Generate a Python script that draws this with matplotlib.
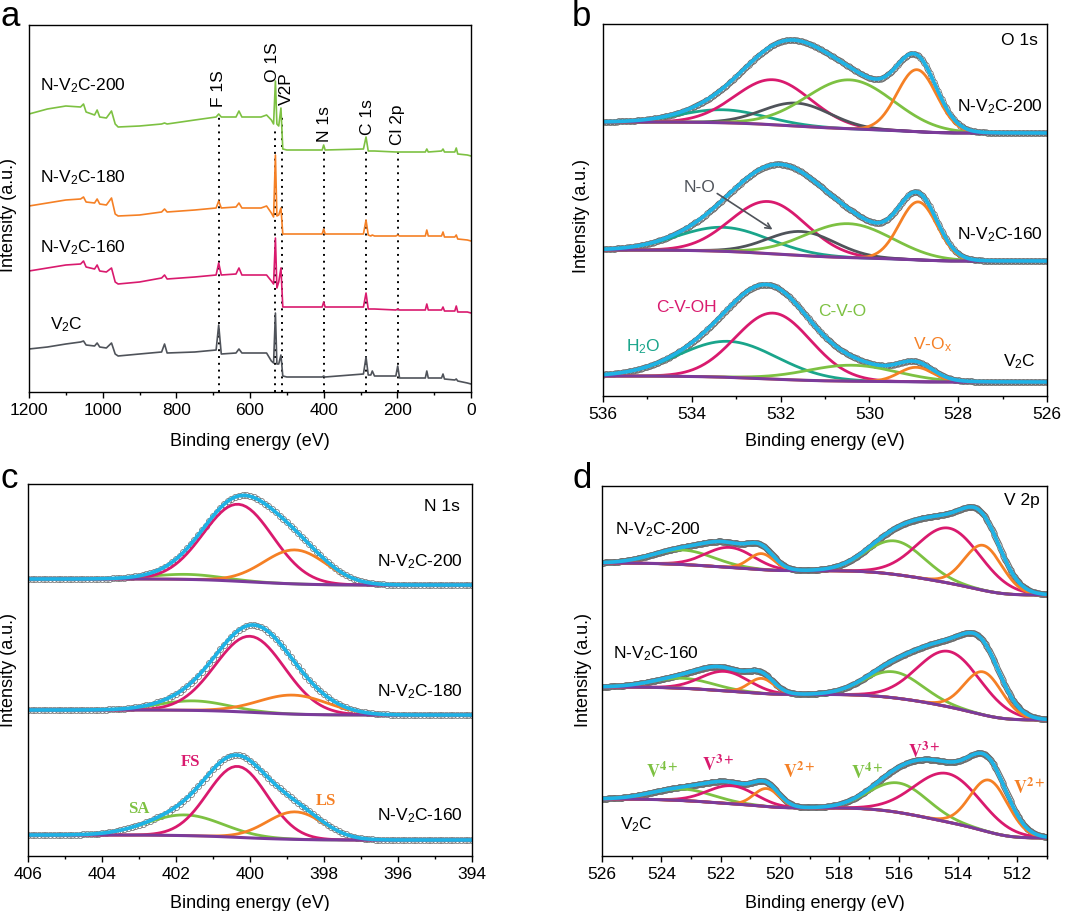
import numpy as np
import matplotlib.pyplot as plt
from matplotlib.ticker import MultipleLocator, FormatStrFormatter

plt.rcParams['font.family'] = ['Liberation Sans', 'DejaVu Sans']
plt.rcParams['mathtext.fontset'] = 'custom'
plt.rcParams['mathtext.rm'] = 'Liberation Sans'
plt.rcParams['mathtext.it'] = 'Liberation Sans:italic'
plt.rcParams['mathtext.bf'] = 'Liberation Sans:bold'

GREEN = '#7dc142'
ORANGE = '#f58025'
MAGENTA = '#d91a6e'
TEAL = '#1aa58b'
GREY = '#4f535a'
PURPLE = '#7b3b9b'
CYAN = '#1eb3e6'
DOTS = '#6a6a6a'

# ---------------- (a) survey spectra ----------------
survey_energy = [1200, 1150, 1100, 1060, 1052, 1045, 1022, 1015, 1008, 990,
                 976, 966, 958, 900, 840, 832, 825, 750, 692, 685,
                 678, 638, 630, 622, 570, 555, 542, 536, 531, 527,
                 522, 516, 511, 500, 404, 400, 396, 292, 285, 279,
                 272, 268, 262, 204, 199, 194, 124, 120, 116, 80,
                 76, 72, 44, 40, 36, 10, 0]
survey_200 = [278, 283, 286, 285, 288, 280, 277, 282, 275, 274,
              281, 268, 265, 266, 268, 269, 268, 272, 275, 278,
              275, 275, 281, 275, 275, 277, 272, 268, 311, 268,
              266, 284, 243, 242, 242, 247, 242, 243, 255, 241,
              241, 241, 241, 240, 240, 240, 240, 243, 240, 241,
              243, 240, 240, 244, 238, 237, 236]
survey_180 = [186, 189, 192, 193, 195, 190, 189, 193, 188, 187,
              194, 178, 176, 177, 180, 183, 180, 182, 184, 191,
              184, 185, 189, 184, 184, 186, 179, 175, 237, 176,
              177, 184, 158, 158, 158, 163, 158, 158, 172, 157,
              156, 157, 156, 156, 157, 156, 156, 162, 156, 156,
              160, 155, 155, 157, 153, 152, 151]
survey_160 = [121, 124, 127, 128, 131, 125, 123, 127, 121, 120,
              124, 110, 108, 110, 114, 117, 113, 115, 117, 129,
              117, 118, 124, 117, 117, 117, 111, 108, 154, 104,
              110, 124, 85, 85, 85, 90, 85, 85, 99, 83,
              83, 83, 83, 82, 83, 82, 82, 88, 82, 82,
              85, 81, 81, 86, 80, 80, 79]
survey_v2c = [43, 45, 48, 50, 51, 47, 46, 49, 45, 44,
              49, 38, 36, 38, 40, 48, 39, 40, 42, 67,
              38, 39, 43, 39, 39, 39, 31, 29, 79, 28,
              28, 37, 16, 15, 15, 16, 15, 18, 35, 17,
              17, 21, 16, 16, 26, 14, 14, 21, 14, 14,
              18, 13, 12, 13, 11, 9, 8]
survey_peaks = ['F 1S', 'O 1S', 'V2P', 'N 1s', 'C 1s', 'Cl 2p']
survey_peak_energy = [685, 531, 514, 400, 285, 199]
survey_peak_top = [278, 262, 276, 245, 245, 240]

# ---------------- (b) O 1s ----------------
o1s_colors = [TEAL, MAGENTA, GREY, GREEN, ORANGE]
o1s_200_center = [533.3, 532.17, 531.64, 530.44, 528.93]
o1s_200_height = [13, 45, 23, 49, 62]
o1s_200_fwhm = [2.2, 2.0, 1.8, 2.3, 1.05]
o1s_200_bg = [274, 263]
o1s_160_center = [533.29, 532.28, 531.53, 530.47, 528.9]
o1s_160_height = [24, 52, 24, 34, 58]
o1s_160_fwhm = [2.4, 2.0, 1.8, 2.3, 1.0]
o1s_160_bg = [146, 135]
o1s_v2c_center = [533.18, 532.17, 531.5, 530.4, 528.95]
o1s_v2c_height = [36, 66, 0, 16, 14.5]
o1s_v2c_fwhm = [2.6, 2.0, 1.8, 2.4, 0.9]
o1s_v2c_bg = [20, 14]

# ---------------- (c) N 1s ----------------
n1s_colors = [GREEN, MAGENTA, ORANGE]
n1s_200_center = [401.71, 400.32, 398.78]
n1s_200_height = [5, 77, 34]
n1s_200_fwhm = [2.2, 2.2, 2.0]
n1s_200_bg = [277, 271]
n1s_180_center = [401.53, 400.0, 398.83]
n1s_180_height = [9.5, 76, 19]
n1s_180_fwhm = [2.2, 2.2, 2.2]
n1s_180_bg = [146, 141]
n1s_160_center = [401.76, 400.34, 398.78]
n1s_160_height = [20.7, 71, 27.5]
n1s_160_fwhm = [2.4, 1.9, 1.8]
n1s_160_bg = [21, 16]

# ---------------- (d) V 2p ----------------
v2p_colors = [GREEN, MAGENTA, ORANGE, GREEN, MAGENTA, ORANGE]
v2p_200_center = [523.27, 521.69, 520.62, 516.12, 514.3, 513.15]
v2p_200_height = [14.5, 20, 16, 33.5, 55, 45]
v2p_200_fwhm = [2.4, 1.9, 1.0, 2.3, 2.5, 1.5]
v2p_200_bg = [293, 261]
v2p_160_center = [523.27, 521.86, 520.62, 516.18, 514.3, 513.15]
v2p_160_height = [10, 19.5, 15, 26, 55.5, 43]
v2p_160_fwhm = [2.4, 1.9, 1.0, 2.3, 2.5, 1.5]
v2p_160_bg = [169, 136]
v2p_v2c_center = [523.27, 521.63, 520.45, 516.0, 514.35, 512.95]
v2p_v2c_height = [11.5, 18, 18, 29.5, 48.5, 52]
v2p_v2c_fwhm = [2.4, 1.9, 1.0, 2.3, 2.6, 1.5]
v2p_v2c_bg = [57, 18]


def gauss(x, c, h, w):
    return h * np.exp(-4 * np.log(2) * (x - c) ** 2 / w ** 2)


def draw_fit(ax, lo, hi, step, centers, heights, fwhms, bg, colors, ms):
    x = np.arange(lo, hi + step / 2, step)
    peaks = [gauss(x, c, h, w) for c, h, w in zip(centers, heights, fwhms)]
    total = np.sum(peaks, axis=0)
    # Shirley-type background: steps up with the peak area towards high BE
    frac = np.cumsum(total) / total.sum()
    base = bg[1] + (bg[0] - bg[1]) * frac
    ax.plot(x, total + base, 'o', ms=ms, mfc='none', mec=DOTS, mew=0.5)
    for p, h, col in zip(peaks, heights, colors):
        if h > 0:
            ax.plot(x, base + p, color=col, lw=2)
    ax.plot(x, base, color=PURPLE, lw=2.2)
    ax.plot(x, total + base, color=CYAN, lw=2.6)


def style(ax, xlim, height, major, minor):
    ax.set_xlim(*xlim)
    ax.set_ylim(0, height)
    ax.xaxis.set_major_locator(MultipleLocator(major))
    ax.xaxis.set_minor_locator(MultipleLocator(minor))
    ax.xaxis.set_major_formatter(FormatStrFormatter('%d'))
    ax.set_yticks([])
    ax.tick_params(axis='x', which='major', direction='out', length=4,
                   width=1, labelsize=12.5, pad=3)
    ax.tick_params(axis='x', which='minor', direction='out', length=2.5, width=1)
    for s in ax.spines.values():
        s.set_linewidth(1)


W, H = 1080, 912
fig = plt.figure(figsize=(W / 100, H / 100), dpi=100)


def axes_px(x, top, w, h):
    return fig.add_axes([x / W, (H - top - h) / H, w / W, h / H])


def sample(n):
    return 'N-V$_2$C-%s' % n


# ----- panel a -----
ax = axes_px(29, 26, 442, 367)
for e, top in zip(survey_peak_energy, survey_peak_top):
    ax.plot([e, e], [0, top], color='black', ls=(0, (1, 2.5)), lw=1.4, zorder=1)
for vals, col in [(survey_200, GREEN), (survey_180, ORANGE),
                  (survey_160, MAGENTA), (survey_v2c, GREY)]:
    ax.plot(survey_energy, vals, color=col, lw=1.2, zorder=2)
label_xy = [(685, 286), (538, 311), (500, 288), (397, 251), (280, 258), (199, 248)]
for name, (lx, ly) in zip(survey_peaks, label_xy):
    ax.text(lx, ly, name, rotation=90, ha='center', va='bottom', fontsize=12.5)
ax.text(1170, 307, sample(200), fontsize=12.5, va='center')
ax.text(1170, 215, sample(180), fontsize=12.5, va='center')
ax.text(1170, 145, sample(160), fontsize=12.5, va='center')
ax.text(1143, 68, 'V$_2$C', fontsize=12.5, va='center')
style(ax, (1200, 0), 367, 200, 100)

# ----- panel b -----
ax = axes_px(603, 25, 444, 372)
draw_fit(ax, 526, 536, 0.03, o1s_200_center, o1s_200_height, o1s_200_fwhm,
         o1s_200_bg, o1s_colors, 4)
draw_fit(ax, 526, 536, 0.03, o1s_160_center, o1s_160_height, o1s_160_fwhm,
         o1s_160_bg, o1s_colors, 4)
draw_fit(ax, 526, 536, 0.03, o1s_v2c_center, o1s_v2c_height, o1s_v2c_fwhm,
         o1s_v2c_bg, o1s_colors, 4)
ax.text(526.2, 357, 'O 1s', fontsize=12.5, ha='right', va='center')
ax.text(526.1, 290, sample(200), fontsize=12.5, ha='right', va='center')
ax.text(526.1, 162, sample(160), fontsize=12.5, ha='right', va='center')
ax.text(526.25, 35, 'V$_2$C', fontsize=12.5, ha='right', va='center')
ax.text(533.82, 210, 'N-O', fontsize=12.5, ha='center', va='center', color=GREY)
ax.annotate('', xy=(532.13, 165), xytext=(533.48, 204),
            arrowprops=dict(arrowstyle='->', color=GREY, lw=1.2))
ax.text(534.11, 89, 'C-V-OH', fontsize=12.5, ha='center', va='center', color=MAGENTA)
ax.text(530.62, 85, 'C-V-O', fontsize=12.5, ha='center', va='center', color=GREEN)
ax.text(535.1, 50, 'H$_2$O', fontsize=12.5, ha='center', va='center', color=TEAL)
ax.text(528.59, 52, 'V-O$_\\mathrm{x}$', fontsize=12.5, ha='center', va='center',
        color=ORANGE)
style(ax, (536, 526), 372, 2, 1)

# ----- panel c -----
ax = axes_px(28, 485, 444, 372)
draw_fit(ax, 394, 406, 0.1, n1s_200_center, n1s_200_height, n1s_200_fwhm,
         n1s_200_bg, n1s_colors, 4.5)
draw_fit(ax, 394, 406, 0.1, n1s_180_center, n1s_180_height, n1s_180_fwhm,
         n1s_180_bg, n1s_colors, 4.5)
draw_fit(ax, 394, 406, 0.1, n1s_160_center, n1s_160_height, n1s_160_fwhm,
         n1s_160_bg, n1s_colors, 4.5)
ax.text(394.32, 350, 'N 1s', fontsize=12.5, ha='right', va='center')
ax.text(394.24, 295, sample(200), fontsize=12.5, ha='right', va='center')
ax.text(394.24, 165, sample(180), fontsize=12.5, ha='right', va='center')
ax.text(394.24, 41, sample(160), fontsize=12.5, ha='right', va='center')
serif = dict(family='Liberation Serif', weight='bold', fontsize=12,
             ha='center', va='center')
ax.text(401.6, 95, 'FS', color=MAGENTA, **serif)
ax.text(403.0, 48, 'SA', color=GREEN, **serif)
ax.text(397.95, 56, 'LS', color=ORANGE, **serif)
style(ax, (406, 394), 372, 2, 1)

# ----- panel d -----
ax = axes_px(602, 487, 445, 370)
draw_fit(ax, 511, 526, 0.03, v2p_200_center, v2p_200_height, v2p_200_fwhm,
         v2p_200_bg, v2p_colors, 4)
draw_fit(ax, 511, 526, 0.03, v2p_160_center, v2p_160_height, v2p_160_fwhm,
         v2p_160_bg, v2p_colors, 4)
draw_fit(ax, 511, 526, 0.03, v2p_v2c_center, v2p_v2c_height, v2p_v2c_fwhm,
         v2p_v2c_bg, v2p_colors, 4)
ax.text(511.24, 356, 'V 2p', fontsize=12.5, ha='right', va='center')
ax.text(525.56, 327, sample(200), fontsize=12.5, ha='left', va='center')
ax.text(525.63, 203, sample(160), fontsize=12.5, ha='left', va='center')
ax.text(525.4, 32, 'V$_2$C', fontsize=12.5, ha='left', va='center')
states = [(523.98, 85, '4+', GREEN), (522.09, 92, '3+', MAGENTA),
          (519.36, 85, '2+', ORANGE), (517.07, 84, '4+', GREEN),
          (515.15, 105, '3+', MAGENTA), (511.61, 69, '2+', ORANGE)]
for sx, sy, ch, col in states:
    ax.text(sx, sy, r'$\mathbf{V^{%s}}$' % ch, color=col, fontsize=13,
            ha='center', va='center', math_fontfamily='stix')
style(ax, (526, 511), 370, 2, 1)

# axis labels and panel letters
for x, y in [(9, 215), (582, 216), (9, 670), (584, 670)]:
    fig.text(x / W, 1 - y / H, 'Intensity (a.u.)', rotation=90,
             ha='center', va='center', fontsize=13)
for x, y in [(250, 442), (825, 442), (250, 904), (825, 904)]:
    fig.text(x / W, 1 - y / H, 'Binding energy (eV)', ha='center',
             va='center', fontsize=13)
for x, y, s in [(0, 0, 'a'), (572, 0, 'b'), (0, 462, 'c'), (572, 462, 'd')]:
    fig.text(x / W, 1 - y / H, s, ha='left', va='top', fontsize=25)

fig.savefig('out.png', dpi=100)
